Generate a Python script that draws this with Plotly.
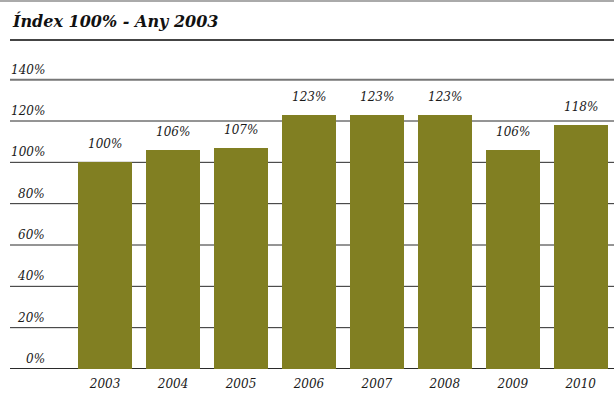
import plotly.graph_objects as go

years = ["2003", "2004", "2005", "2006", "2007", "2008", "2009", "2010"]
index_values = [100, 106, 107, 123, 123, 123, 106, 118]
y_ticks = [0, 20, 40, 60, 80, 100, 120, 140]
title_text = "Índex 100% - Any 2003"

BAR = "#817F22"
SERIF = "DejaVu Serif"
TXT = "#1a1a1a"

positions = list(range(len(years)))

fig = go.Figure(
    go.Bar(
        x=positions,
        y=index_values,
        marker=dict(color=BAR, line=dict(width=0)),
        width=0.795,
        hoverinfo="skip",
    )
)

# value labels above each bar
for xp, v in zip(positions, index_values):
    fig.add_annotation(
        x=xp, y=v, text=f"{v}%", showarrow=False,
        yanchor="bottom", yshift=9,
        font=dict(family=SERIF, size=12, color=TXT, style="italic"),
    )

# gridlines with right-aligned labels sitting just above each line
for t in y_ticks:
    fig.add_shape(type="line", xref="paper", yref="y", x0=0, x1=1, y0=t, y1=t,
                  line=dict(color="#777" if t == 140 else "#2a2a2a",
                            width=2 if t in (0, 140) else 1),
                  layer="below")
    fig.add_annotation(
        xref="paper", yref="y", x=0, y=t, xanchor="right", yanchor="bottom",
        xshift=37, yshift=1, text=f"{t}%", showarrow=False,
        font=dict(family=SERIF, size=12, color=TXT, style="italic"),
    )

# title and rules (plot area spans 310 px vertically, bottom at 369 px)
PLOT_H = 310
def paper_y(px_from_top):
    return (369 - px_from_top) / PLOT_H

fig.add_annotation(
    xref="paper", yref="paper", x=0, y=paper_y(21), xanchor="left", yanchor="middle",
    text=title_text, showarrow=False,
    font=dict(family=SERIF, size=16, color="#111", weight="bold", style="italic"),
)
fig.add_shape(type="line", xref="paper", yref="paper", x0=0, x1=1,
              y0=paper_y(40), y1=paper_y(40), line=dict(color="#444", width=2))
fig.add_shape(type="line", xref="paper", yref="paper", x0=-0.02, x1=1,
              y0=paper_y(1), y1=paper_y(1), line=dict(color="#aaa", width=2))

fig.update_layout(
    width=614, height=394,
    margin=dict(l=10, r=0, t=59, b=25),
    paper_bgcolor="white", plot_bgcolor="white",
    showlegend=False,
    bargap=0,
    xaxis=dict(
        range=[-1.4, 7.49],
        tickvals=positions, ticktext=years,
        showgrid=False, zeroline=False, showline=False, ticks="",
        ticklabelstandoff=6,
        tickfont=dict(family=SERIF, size=12, color=TXT, style="italic"),
    ),
    yaxis=dict(
        range=[0, 150],
        showgrid=False, zeroline=False, showline=False,
        showticklabels=False, ticks="",
    ),
)

fig.write_html("out.html")
